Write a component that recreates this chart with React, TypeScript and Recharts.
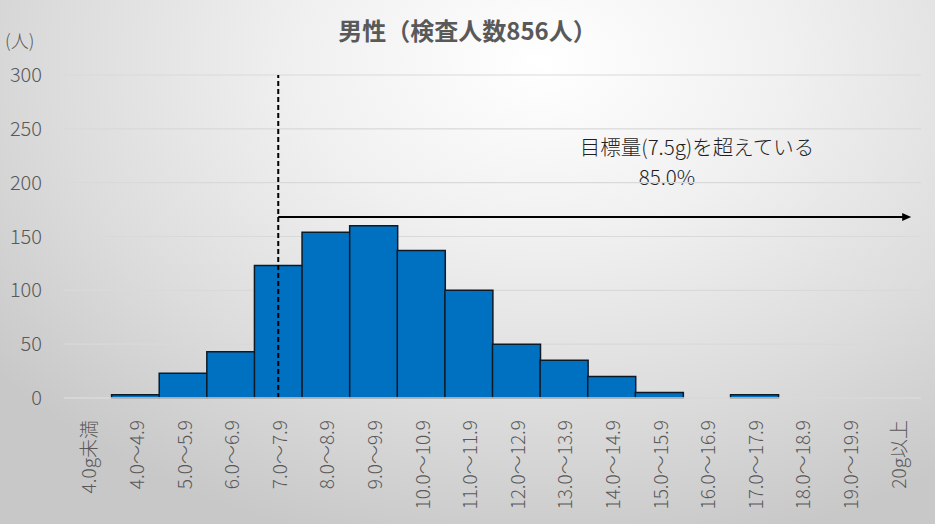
import React from "react";
import { BarChart, Bar, XAxis, YAxis, CartesianGrid, ReferenceLine } from "recharts";

const categories = [
  "4.0g未満", "4.0～4.9", "5.0～5.9", "6.0～6.9", "7.0～7.9", "8.0～8.9",
  "9.0～9.9", "10.0～10.9", "11.0～11.9", "12.0～12.9", "13.0～13.9", "14.0～14.9",
  "15.0～15.9", "16.0～16.9", "17.0～17.9", "18.0～18.9", "19.0～19.9", "20g以上",
];
const counts = [0, 3, 23, 43, 123, 154, 160, 137, 100, 50, 35, 20, 5, 0, 3, 0, 0, 0];
const yTicks = [0, 50, 100, 150, 200, 250, 300];
const targetCategory = "7.0～7.9";
const lastCategory = "20g以上";
const arrowLevel = 168;

const title = "男性（検査人数856人）";
const yUnit = "(人)";
const noteLine1 = "目標量(7.5g)を超えている";
const noteLine2 = "85.0%";

const data = categories.map((c, i) => ({ category: c, count: counts[i] }));

const FONT = "'Noto Sans CJK JP', 'Noto Sans', sans-serif";
const GRAY = "#595959";

const XTick = (props: any) => {
  const { x, y, payload } = props;
  return (
    <text
      transform={`translate(${x},${y + 14}) rotate(-90)`}
      textAnchor="end"
      dominantBaseline="central"
      fill={GRAY}
      fontSize={19}
      fontWeight={300}
      fontFamily={FONT}
    >
      {payload.value}
    </text>
  );
};

const ArrowShape = (props: any) => {
  const { x1, y1, x2, y2 } = props;
  const end = x2 + 14;
  return (
    <g>
      <line x1={x1} y1={y1} x2={end - 8} y2={y2} stroke="#000" strokeWidth={2} />
      <polygon points={`${end},${y2} ${end - 9},${y2 - 4} ${end - 9},${y2 + 4}`} fill="#000" />
    </g>
  );
};

export default function App() {
  return (
    <div
      style={{
        position: "relative",
        width: 935,
        height: 524,
        background:
          "radial-gradient(ellipse 75% 95% at 58% 12%, #ffffff 0%, #f0f0f0 35%, #dcdcdc 70%, #c8c8c8 100%)",
        fontFamily: FONT,
        overflow: "hidden",
      }}
    >
      <style>{`body{margin:0}`}</style>
      <div
        style={{
          position: "absolute",
          left: 0,
          width: 935,
          top: 13,
          textAlign: "center",
          fontSize: 24,
          fontWeight: 700,
          color: GRAY,
          lineHeight: "34px",
        }}
      >
        {title}
      </div>
      <div
        style={{ position: "absolute", left: 5, top: 27, fontSize: 18, fontWeight: 300, color: GRAY, lineHeight: "26px" }}
      >
        {yUnit}
      </div>
      <div
        style={{
          position: "absolute",
          left: 547,
          width: 300,
          top: 131,
          textAlign: "center",
          fontSize: 20.5,
          fontWeight: 300,
          color: "#1f1f1f",
          lineHeight: "30px",
        }}
      >
        {noteLine1}
      </div>
      <div
        style={{
          position: "absolute",
          left: 567,
          width: 200,
          top: 161,
          textAlign: "center",
          fontSize: 20.5,
          fontWeight: 300,
          color: "#1f1f1f",
          lineHeight: "30px",
        }}
      >
        {noteLine2}
      </div>
      <div style={{ position: "absolute", left: 0, top: 0 }}>
        <BarChart
          width={935}
          height={524}
          data={data}
          margin={{ top: 75, right: 14, bottom: 0, left: 0 }}
          barCategoryGap={0}
          barGap={0}
        >
          <CartesianGrid vertical={false} stroke="#d9d9d9" strokeWidth={1.2} />
          <XAxis
            dataKey="category"
            interval={0}
            tick={<XTick />}
            tickLine={false}
            axisLine={{ stroke: "#d9d9d9", strokeWidth: 1.5 }}
            height={126}
          />
          <YAxis
            domain={[0, 300]}
            ticks={yTicks}
            width={64}
            tickLine={false}
            axisLine={false}
            tickSize={0}
            tickMargin={22}
            tick={{ fill: GRAY, fontSize: 20, fontWeight: 300, fontFamily: FONT }}
          />
          <Bar
            dataKey="count"
            fill="#0070C0"
            stroke="#0d1a26"
            strokeWidth={1.5}
            isAnimationActive={false}
          />
          <ReferenceLine
            x={targetCategory}
            stroke="#000"
            strokeWidth={2}
            strokeDasharray="5 3"
            ifOverflow="visible"
          />
          <ReferenceLine
            segment={[
              { x: targetCategory, y: arrowLevel },
              { x: lastCategory, y: arrowLevel },
            ]}
            shape={<ArrowShape />}
            ifOverflow="visible"
          />
        </BarChart>
      </div>
    </div>
  );
}
